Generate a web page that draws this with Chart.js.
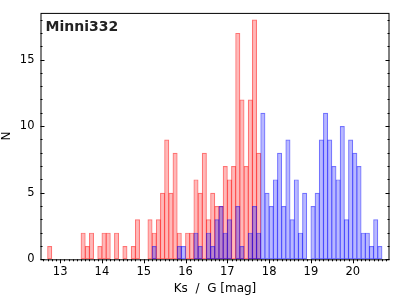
<!DOCTYPE html>
<html>
<head>
<meta charset="utf-8">
<script src="https://cdn.jsdelivr.net/npm/chart.js@4.4.1/dist/chart.umd.min.js"></script>
<style>
  html, body { margin: 0; padding: 0; background: #fff; }
</style>
</head>
<body>
<canvas id="hist" width="400" height="300"></canvas>
<script>
// histogram bins (bin centres, 0.1 mag wide) and counts
const ksBins = [12.75, 13.55, 13.65, 13.75, 13.95, 14.05, 14.15, 14.35, 14.55, 14.75, 14.85,
  15.15, 15.25, 15.35, 15.45, 15.55, 15.65, 15.75, 15.85, 16.05, 16.15, 16.25, 16.35, 16.45,
  16.55, 16.65, 16.75, 16.85, 16.95, 17.05, 17.15, 17.25, 17.35, 17.45, 17.55, 17.65, 17.75];
const ksCounts = [1, 2, 1, 2, 1, 2, 2, 2, 1, 1, 3,
  3, 2, 3, 5, 9, 5, 8, 2, 2, 2, 6, 5, 8,
  3, 5, 4, 4, 7, 6, 7, 17, 12, 7, 12, 18, 8];

const gBins = [15.25, 15.85, 15.95, 16.25, 16.35, 16.55, 16.65, 16.75, 16.85, 16.95, 17.05,
  17.25, 17.35, 17.55, 17.65, 17.75, 17.85, 17.95, 18.05, 18.15, 18.25, 18.35, 18.45, 18.55,
  18.65, 18.75, 18.85, 19.05, 19.15, 19.25, 19.35, 19.45, 19.55, 19.65, 19.75, 19.85, 19.95,
  20.05, 20.15, 20.25, 20.35, 20.45, 20.55, 20.65];
const gCounts = [1, 1, 1, 2, 1, 2, 1, 3, 4, 2, 3,
  4, 1, 2, 4, 2, 11, 5, 4, 6, 8, 4, 9, 3,
  6, 2, 5, 4, 5, 9, 11, 9, 7, 6, 10, 3, 9,
  8, 7, 2, 2, 1, 3, 1];

const xTickLabels = [13, 14, 15, 16, 17, 18, 19, 20];
const yTickLabels = [0, 5, 10, 15];
const titleText = "Minni332";

function toPoints(bins, counts) {
  return bins.map((b, i) => ({ x: b, y: counts[i] }));
}

// frame, small tick marks and the field name
const framePlugin = {
  id: "frame",
  afterDraw(chart) {
    const { ctx, chartArea: a, scales } = chart;
    const xs = scales.x, ys = scales.y;
    ctx.save();
    ctx.strokeStyle = "#000";
    ctx.lineWidth = 1;
    ctx.strokeRect(a.left + 0.5, a.top + 0.5, a.right - a.left - 1, a.bottom - a.top);

    ctx.beginPath();
    // x ticks, pointing down
    for (let k = 126; k <= 208; k++) {
      const px = Math.round(xs.getPixelForValue(k / 10)) + 0.5;
      const len = k % 10 === 0 ? 4 : 2;
      ctx.moveTo(px, a.bottom);
      ctx.lineTo(px, a.bottom + len);
    }
    // y ticks, pointing in on both sides
    for (let v = 0; v <= 18; v++) {
      const py = Math.round(ys.getPixelForValue(v)) + 0.5;
      const len = v % 5 === 0 ? 4 : 2;
      ctx.moveTo(a.left, py);
      ctx.lineTo(a.left + len, py);
      ctx.moveTo(a.right, py);
      ctx.lineTo(a.right - len, py);
    }
    ctx.stroke();

    ctx.font = 'bold 14px "DejaVu Sans"';
    ctx.fillStyle = "#222";
    ctx.textBaseline = "alphabetic";
    ctx.fillText(titleText, a.left + 5, a.top + 18);
    ctx.restore();
  }
};

new Chart("hist", {
  type: "bar",
  data: {
    datasets: [
      {
        label: "Ks",
        data: toPoints(ksBins, ksCounts),
        backgroundColor: "rgba(255,0,0,0.28)",
        borderColor: "rgba(255,0,0,0.55)",
        borderWidth: 1.2,
        borderSkipped: false,
        order: 2,
      },
      {
        label: "G",
        data: toPoints(gBins, gCounts),
        backgroundColor: "rgba(0,0,255,0.28)",
        borderColor: "rgba(0,0,255,0.55)",
        borderWidth: 1.2,
        borderSkipped: false,
        order: 1,
      },
    ],
  },
  options: {
    responsive: false,
    animation: false,
    grouped: false,
    categoryPercentage: 1,
    barPercentage: 1.2,
    layout: { padding: { top: 8, right: 10.5, left: 0, bottom: 0 } },
    plugins: {
      legend: { display: false },
      tooltip: { enabled: false },
    },
    scales: {
      x: {
        type: "linear",
        min: 12.53,
        max: 20.88,
        offset: false,
        grid: { display: false, drawTicks: false },
        border: { display: false },
        afterBuildTicks: (s) => { s.ticks = xTickLabels.map((v) => ({ value: v })); },
        afterFit: (s) => { s.height = 40.7; },
        ticks: {
          color: "#000",
          padding: 6,
          font: { family: "DejaVu Sans", size: 11.5 },
        },
        title: {
          display: true,
          text: "Ks  /  G [mag]",
          color: "#000",
          padding: { top: 0, bottom: 4 },
          font: { family: "DejaVu Sans", size: 12 },
        },
      },
      y: {
        min: 0,
        max: 18.5,
        grid: { display: false, drawTicks: false },
        border: { display: false },
        afterBuildTicks: (s) => { s.ticks = yTickLabels.map((v) => ({ value: v })); },
        afterFit: (s) => { s.width = 40.5; },
        ticks: {
          color: "#000",
          padding: 6,
          font: { family: "DejaVu Sans", size: 11.5 },
        },
        title: {
          display: true,
          text: "N",
          color: "#000",
          padding: { top: 0, bottom: 4 },
          font: { family: "DejaVu Sans", size: 12 },
        },
      },
    },
  },
  plugins: [framePlugin],
});
</script>
</body>
</html>
